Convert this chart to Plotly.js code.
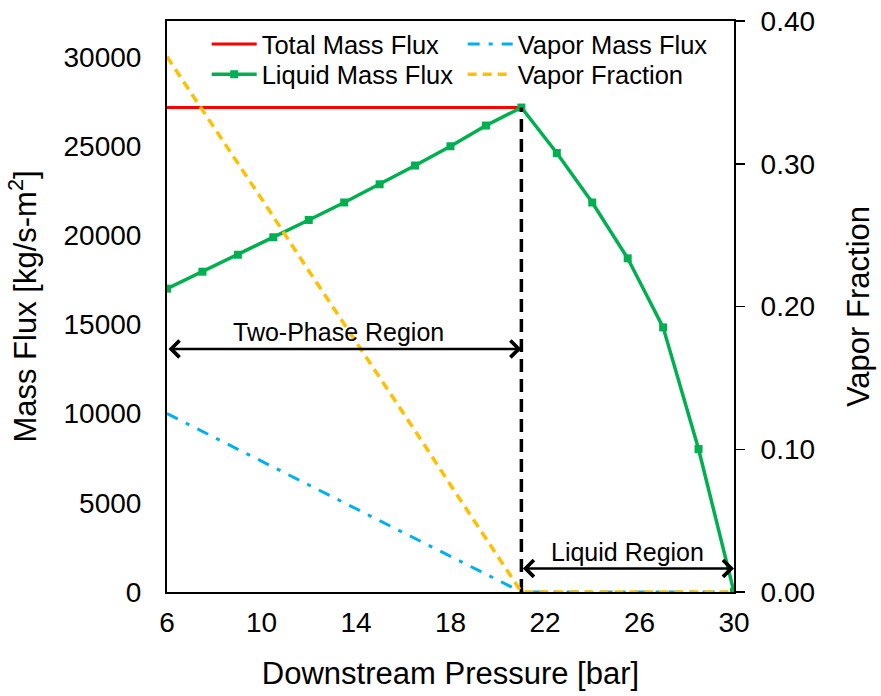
<!DOCTYPE html>
<html>
<head>
<meta charset="utf-8">
<script src="https://cdn.plot.ly/plotly-3.0.1.min.js"></script>
<style>
  html, body { margin: 0; padding: 0; background: #fff; }
  #chart { width: 881px; height: 696px; }
</style>
</head>
<body>
<div id="chart"></div>
<script>
// ---- data ----
const pressure = [6, 7.5, 9, 10.5, 12, 13.5, 15, 16.5, 18, 19.5, 21, 22.5, 24, 25.5, 27, 28.5, 30];
const totalMassFlux = [27150, 27150, 27150, 27150, 27150, 27150, 27150, 27150, 27150, 27150, 27150,
                       null, null, null, null, null, null];
const liquidMassFlux = [17000, 17950, 18900, 19880, 20850, 21830, 22850, 23900, 24980, 26140, 27150,
                        24600, 21830, 18700, 14830, 8010, 0];
const vaporMassFlux = [10000, 9000, 8000, 7000, 6000, 5000, 4000, 3000, 2000, 1000, 0,
                       0, 0, 0, 0, 0, 0];
const vaporFraction = [0.375, 0.338, 0.300, 0.263, 0.225, 0.188, 0.150, 0.113, 0.075, 0.038, 0.000,
                       0.000, 0.000, 0.000, 0.000, 0.000, 0.000];
const boundaryX = [21, 21];
const boundaryY = [0, 27150];
const twoPhaseSpan = [6, 21];
const twoPhaseLevel = 13620;
const twoPhaseLabel = {x: 13.25, y: 14550, text: 'Two-Phase Region'};
const liquidSpan = [21, 30];
const liquidLevel = 1320;
const liquidLabel = {x: 25.5, y: 2250, text: 'Liquid Region'};
const xTicks = [6, 10, 14, 18, 22, 26, 30];
const yTicks = [0, 5000, 10000, 15000, 20000, 25000, 30000];
const y2Ticks = [0, 0.1, 0.2, 0.3, 0.4];

const FONT = 'Liberation Sans, Arial, sans-serif';

const traces = [
  {x: pressure, y: totalMassFlux, name: 'Total Mass Flux', mode: 'lines', legend: 'legend',
   line: {color: '#FF0000', width: 3}, yaxis: 'y'},
  {x: pressure, y: vaporMassFlux, name: 'Vapor Mass Flux', mode: 'lines', legend: 'legend',
   line: {color: '#00B0F0', width: 3, dash: '12px,9px,4px,9px'}, yaxis: 'y'},
  {x: pressure, y: liquidMassFlux, name: 'Liquid Mass Flux', mode: 'lines+markers', legend: 'legend2',
   line: {color: '#00B050', width: 3.5}, marker: {symbol: 'square', size: 8, color: '#00B050'}, yaxis: 'y'},
  {x: pressure, y: vaporFraction, name: 'Vapor Fraction', mode: 'lines', legend: 'legend2',
   line: {color: '#FFC000', width: 3.5, dash: '9px,6px'}, yaxis: 'y2'},
  {x: boundaryX, y: boundaryY, mode: 'lines', showlegend: false, hoverinfo: 'skip',
   line: {color: '#000000', width: 3.5, dash: '13px,7px'}, yaxis: 'y'}
];

function arrow(span, level) {
  return {x: span[1], y: level, ax: span[0], ay: level, xref: 'x', yref: 'y', axref: 'x', ayref: 'y',
          text: '', showarrow: true, arrowside: 'end+start', arrowhead: 4, startarrowhead: 4,
          arrowsize: 1.3, startarrowsize: 1.3, arrowwidth: 2.5, arrowcolor: '#000', standoff: 0, startstandoff: 0};
}
function label(l) {
  return {x: l.x, y: l.y, xref: 'x', yref: 'y', text: l.text, showarrow: false,
          font: {family: FONT, size: 25, color: '#000'}};
}
function legendRow(y) {
  return {orientation: 'h', x: 0.07, y: y, xanchor: 'left', yanchor: 'middle',
          font: {family: FONT, size: 25.5, color: '#000'}, bgcolor: 'rgba(0,0,0,0)',
          itemwidth: 45, entrywidth: 196, entrywidthmode: 'pixels', traceorder: 'normal'};
}

const layout = {
  width: 881, height: 696,
  margin: {l: 167, r: 147, t: 21, b: 104},
  paper_bgcolor: '#fff', plot_bgcolor: '#fff',
  font: {family: FONT, color: '#000'},
  showlegend: true,
  legend: legendRow(0.959),
  legend2: legendRow(0.906),
  xaxis: {range: [6, 30], tickvals: xTicks, showgrid: false, zeroline: false,
          showline: true, linecolor: '#000', linewidth: 2, mirror: true, ticks: '',
          ticklabelstandoff: 4,
          tickfont: {family: FONT, size: 28, color: '#000'},
          title: {text: 'Downstream Pressure [bar]', font: {family: FONT, size: 31, color: '#000'}, standoff: 26}},
  yaxis: {range: [0, 32000], tickvals: yTicks, tickformat: 'd', showgrid: false, zeroline: false,
          showline: true, linecolor: '#000', linewidth: 2, ticks: '',
          ticklabelstandoff: 18,
          tickfont: {family: FONT, size: 28, color: '#000'},
          title: {text: 'Mass Flux [kg/s-m<sup>2</sup>]', font: {family: FONT, size: 31, color: '#000'}, standoff: 18}},
  yaxis2: {range: [0, 0.4], tickvals: y2Ticks, tickformat: '.2f', overlaying: 'y', side: 'right',
           showgrid: false, zeroline: false, showline: true, linecolor: '#000', linewidth: 2,
           ticks: 'outside', ticklen: 9, tickwidth: 1.5, tickcolor: '#000',
           ticklabelstandoff: 10,
           tickfont: {family: FONT, size: 28, color: '#000'},
           title: {text: 'Vapor Fraction', font: {family: FONT, size: 31, color: '#000'}, standoff: 33}},
  annotations: [arrow(twoPhaseSpan, twoPhaseLevel), label(twoPhaseLabel),
                arrow(liquidSpan, liquidLevel), label(liquidLabel)]
};

Plotly.newPlot('chart', traces, layout, {displayModeBar: false, staticPlot: true});
</script>
</body>
</html>
